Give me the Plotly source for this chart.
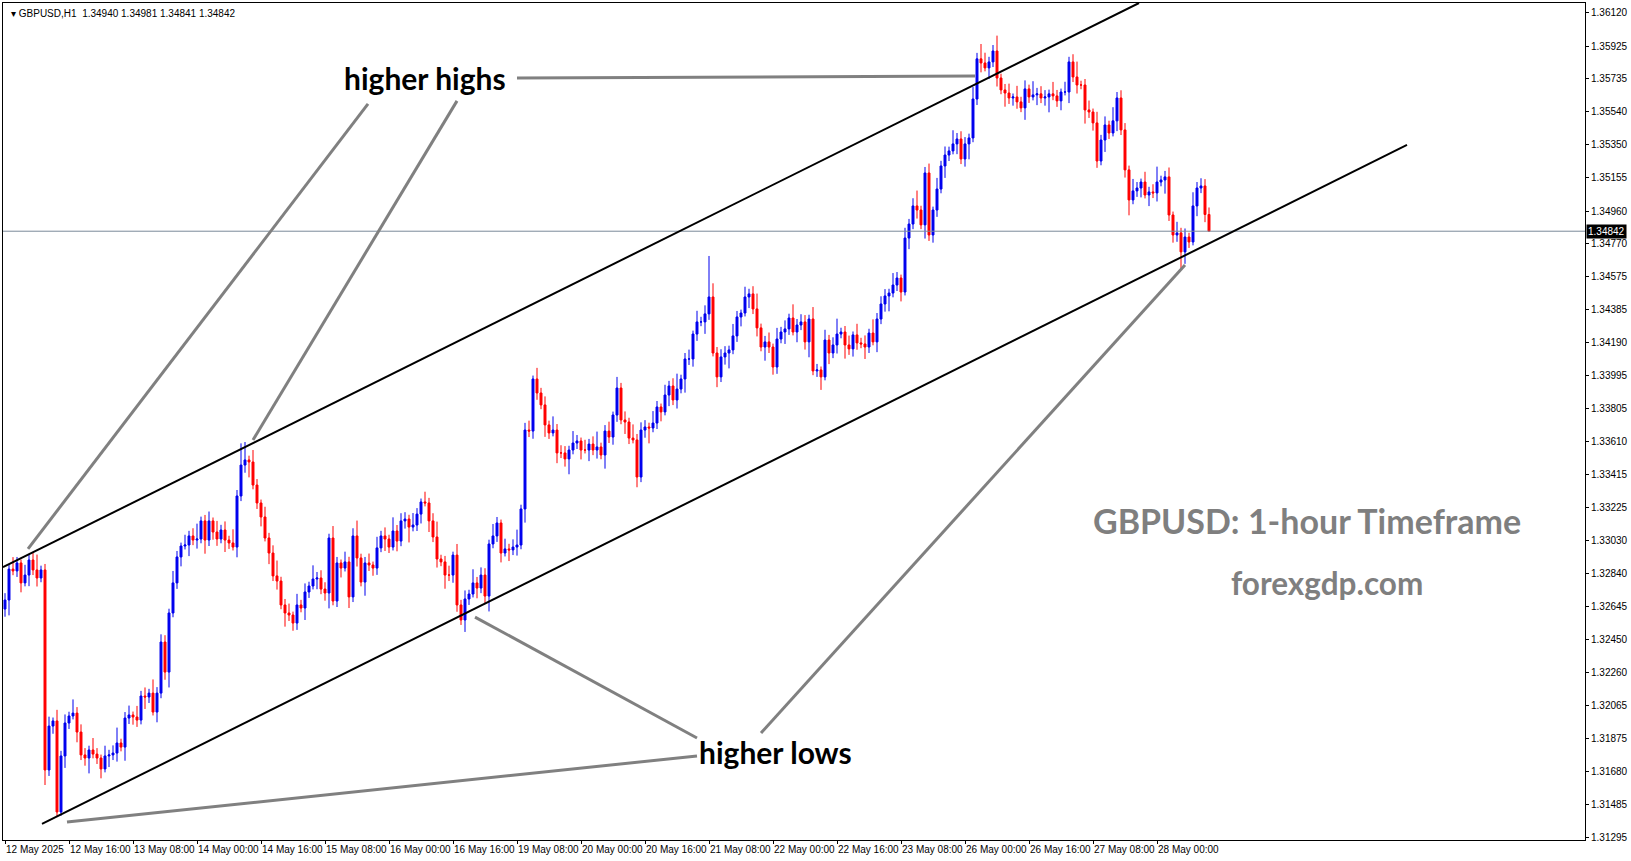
import plotly.graph_objects as go

# Hourly closes GBPUSD H1 (bar index 0 = 12 May 2025 00:00)
closes = [
1.32683,1.32864,1.32853,1.32900,1.32783,1.32829,1.32917,1.32859,1.32812,1.32859,
1.31688,1.31945,1.31975,1.31442,1.31770,1.31963,1.32004,1.32021,1.31910,1.31776,
1.31758,1.31805,1.31781,1.31758,1.31694,1.31770,1.31776,1.31787,1.31846,1.31822,
1.31992,1.32010,1.31998,1.31980,1.32121,1.32115,1.32138,1.32027,1.32138,1.32437,
1.32261,1.32607,1.32783,1.32935,1.32999,1.33005,1.33058,1.33034,1.33040,1.33146,
1.33034,1.33146,1.33081,1.33040,1.33093,1.33034,1.33017,1.32993,1.33292,1.33473,
1.33503,1.33491,1.33356,1.33251,1.33169,1.33046,1.32958,1.32824,1.32794,1.32654,
1.32607,1.32595,1.32548,1.32654,1.32636,1.32730,1.32765,1.32806,1.32812,1.32747,
1.32724,1.33046,1.32677,1.32900,1.32870,1.32906,1.32701,1.33058,1.32929,1.32788,
1.32900,1.32888,1.32870,1.32988,1.33058,1.33040,1.32993,1.33087,1.33028,1.33146,
1.33157,1.33110,1.33122,1.33186,1.33257,1.33251,1.33146,1.33052,1.32923,1.32906,
1.32829,1.32829,1.32946,1.32654,1.32566,1.32689,1.32718,1.32783,1.32753,1.32829,
1.32706,1.33011,1.33058,1.33134,1.32958,1.32982,1.32976,1.32993,1.33005,1.33216,
1.33678,1.33672,1.33977,1.33895,1.33825,1.33708,1.33661,1.33678,1.33544,1.33544,
1.33509,1.33561,1.33602,1.33614,1.33561,1.33561,1.33596,1.33561,1.33579,1.33532,
1.33672,1.33637,1.33766,1.33924,1.33737,1.33725,1.33631,1.33620,1.33403,1.33678,
1.33696,1.33690,1.33719,1.33813,1.33784,1.33883,1.33936,1.33854,1.33918,1.33977,
1.34094,1.34094,1.34240,1.34311,1.34311,1.34358,1.34457,1.34129,1.33989,1.34106,
1.34129,1.34147,1.34229,1.34340,1.34363,1.34457,1.34475,1.34387,1.34276,1.34164,
1.34194,1.34164,1.34047,1.34211,1.34252,1.34270,1.34334,1.34252,1.34293,1.34311,
1.34194,1.34328,1.34024,1.34030,1.33989,1.34205,1.34129,1.34176,1.34240,1.34252,
1.34176,1.34153,1.34235,1.34188,1.34182,1.34164,1.34246,1.34194,1.34328,1.34416,
1.34463,1.34480,1.34527,1.34568,1.34486,1.34802,1.34884,1.34990,1.34966,1.34879,
1.35183,1.34820,1.34966,1.35089,1.35224,1.35288,1.35312,1.35353,1.35382,1.35265,
1.35353,1.35388,1.35616,1.35851,1.35827,1.35798,1.35833,1.35897,1.35739,1.35669,
1.35651,1.35622,1.35628,1.35599,1.35564,1.35675,1.35628,1.35640,1.35646,1.35622,
1.35628,1.35646,1.35634,1.35605,1.35657,1.35657,1.35833,1.35745,1.35698,1.35698,
1.35552,1.35540,1.35476,1.35253,1.35376,1.35464,1.35417,1.35488,1.35622,1.35435,
1.35201,1.35025,1.35078,1.35095,1.35130,1.35054,1.35072,1.35066,1.35130,1.35142,
1.35160,1.34937,1.34820,1.34832,1.34721,1.34808,1.34779,1.34990,1.35095,1.35107,
1.34940,1.34842]
first_open = 1.32630
# typical wick lengths in price points (1e-5)
wick_points = [40,25,70,35,20,60,30,45,90,25,35,55,20,65,30,50,25,80,35,45]
# notable extreme wicks
high_over = {59: 1.33600, 60: 1.33608, 176: 1.34697, 244: 1.35938, 247: 1.35932, 130: 1.33720}
low_over = {13: 1.31412, 14: 1.31420, 114: 1.32537, 204: 1.33913, 294: 1.34615, 10: 1.31600, 301: 1.34841}
last_high = 1.34981

tick_labels_x = ["12 May 2025","12 May 16:00","13 May 08:00","14 May 00:00","14 May 16:00",
 "15 May 08:00","16 May 00:00","16 May 16:00","19 May 08:00","20 May 00:00","20 May 16:00",
 "21 May 08:00","22 May 00:00","22 May 16:00","23 May 08:00","26 May 00:00","26 May 16:00",
 "27 May 08:00","28 May 00:00"]
bars_per_tick = 16
price_ticks = [1.36120,1.35925,1.35735,1.35540,1.35350,1.35155,1.34960,1.34770,1.34575,1.34385,
 1.34190,1.33995,1.33805,1.33610,1.33415,1.33225,1.33030,1.32840,1.32645,1.32450,1.32260,
 1.32065,1.31875,1.31680,1.31485,1.31295]
last_price = 1.34842

# drawn lines (bar index, price)
upper_channel = [(-0.5, 1.32875), (283.5, 1.36178)]
lower_channel = [(9.25, 1.31372), (350.5, 1.35347)]
gray_lines = [
 [(128, 1.35739), (242.5, 1.35751)],
 [(90.75, 1.35587), (5.75, 1.32982)],
 [(113, 1.35605), (62, 1.33620)],
 [(173, 1.31875), (117.5, 1.32583)],
 [(173, 1.31770), (15.5, 1.31383)],
 [(189, 1.31904), (295, 1.34644)],
]

n = len(closes)
x = list(range(n))
opens = [first_open] + closes[:-1]
highs, lows = [], []
for i in range(n):
    o, c = opens[i], closes[i]
    highs.append(high_over.get(i, max(o, c) + wick_points[i % 20] * 1e-5))
    lows.append(low_over.get(i, min(o, c) - wick_points[(i + 7) % 20] * 1e-5))
highs[-1] = last_high

fig = go.Figure()
fig.add_trace(go.Candlestick(
    x=x, open=opens, high=highs, low=lows, close=closes,
    increasing=dict(line=dict(color="#0000ee", width=1), fillcolor="#0000ee"),
    decreasing=dict(line=dict(color="#ff0000", width=1), fillcolor="#ff0000"),
    whiskerwidth=0, showlegend=False, hoverinfo="skip"))

shapes = []
shapes.append(dict(type="line", xref="paper", yref="y", x0=0, x1=1, y0=last_price, y1=last_price,
                   line=dict(color="#7a8a9a", width=1)))
for (a, b) in [upper_channel, lower_channel]:
    shapes.append(dict(type="line", x0=a[0], y0=a[1], x1=b[0], y1=b[1], line=dict(color="black", width=2)))
for (a, b) in gray_lines:
    shapes.append(dict(type="line", x0=a[0], y0=a[1], x1=b[0], y1=b[1], line=dict(color="#808080", width=3)))

ann = [
 dict(x=105.0, y=1.35739, text="<b>higher highs</b>", showarrow=False,
      font=dict(family="Lato", size=30, color="black")),
 dict(x=192.5, y=1.31793, text="<b>higher lows</b>", showarrow=False,
      font=dict(family="Lato", size=30, color="black")),
 dict(x=325.5, y=1.33151, text="<b>GBPUSD: 1-hour Timeframe</b>", showarrow=False,
      font=dict(family="Lato", size=34, color="#7f7f7f")),
 dict(x=330.5, y=1.32783, text="<b>forexgdp.com</b>", showarrow=False,
      font=dict(family="Lato", size=31.5, color="#7f7f7f")),
 dict(xref="paper", yref="paper", x=0.004, y=0.997, xanchor="left", yanchor="top",
      text="▾ GBPUSD,H1  1.34940 1.34981 1.34841 1.34842", showarrow=False,
      font=dict(family="Liberation Sans", size=10, color="black")),
 dict(xref="paper", x=1.0, y=last_price, xanchor="left", text=f"{last_price:.5f}", showarrow=False,
      bgcolor="black", font=dict(family="Liberation Sans", size=10, color="white"), borderpad=1, xshift=1),
]

fig.update_layout(
    width=1631, height=861, margin=dict(l=3, r=46, t=3, b=21, autoexpand=False),
    paper_bgcolor="white", plot_bgcolor="white",
    shapes=shapes, annotations=ann,
    xaxis=dict(range=[-0.5, 395], rangeslider=dict(visible=False), showgrid=False, zeroline=False,
               tickvals=[i * bars_per_tick for i in range(len(tick_labels_x))], ticktext=tick_labels_x,
               ticks="outside", ticklen=3, tickcolor="black", showline=True, linecolor="black", linewidth=1,
               mirror=True, tickfont=dict(family="Liberation Sans", size=10, color="black"),
               tickangle=0, ticklabelposition="outside right", automargin=False),
    yaxis=dict(range=[1.31278, 1.36178], side="right", showgrid=False, zeroline=False,
               tickvals=price_ticks, ticktext=[f"{v:.5f}" for v in price_ticks],
               ticks="outside", ticklen=3, tickcolor="black", showline=True, linecolor="black",
               linewidth=1, mirror=True, automargin=False,
               tickfont=dict(family="Liberation Sans", size=10, color="black")),
)
fig.write_html("out.html", config={"displayModeBar": False},
               post_script="document.body.style.margin='0';")
